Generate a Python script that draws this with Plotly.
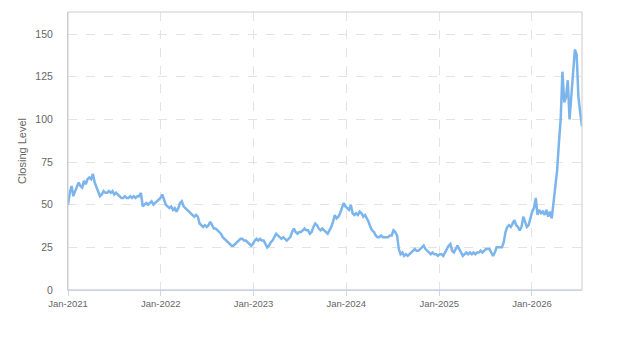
import pandas as pd
import plotly.graph_objects as go

start_date = "2021-01-01"
step = "7D"

close_2021 = [50, 57, 61, 55, 58, 61, 63, 61, 60, 64, 62, 65, 66, 65, 68, 63, 60, 57, 55, 56,
              58, 57, 57, 58, 57, 58, 56, 57, 56, 55, 54, 54, 55, 54, 54, 55, 54, 55, 54, 55,
              55, 57, 49, 50, 51, 50, 51, 52, 50, 51, 52, 53]
close_2022 = [54, 56, 53, 50, 49, 48, 49, 47, 48, 46, 48, 51, 52, 49, 48, 47, 46, 45, 44, 43,
              44, 43, 39, 38, 37, 38, 37, 38, 40, 38, 36, 36, 35, 34, 33, 31, 30, 29, 28, 27,
              26, 26, 27, 28, 29, 30, 30, 29, 29, 28, 27, 26]
close_2023 = [27, 29, 30, 29, 30, 29, 29, 27, 25, 26, 28, 29, 31, 33, 32, 31, 30, 31, 30, 29,
              30, 31, 34, 36, 34, 33, 34, 34, 35, 36, 35, 35, 33, 34, 37, 39, 38, 36, 35, 36,
              35, 34, 33, 35, 37, 40, 44, 42, 43, 45, 48, 51]
close_2024 = [49, 48, 47, 50, 45, 44, 45, 44, 46, 45, 43, 44, 42, 40, 37, 35, 34, 32, 31, 31,
              32, 31, 31, 31, 31, 32, 32, 35, 34, 32, 24, 21, 22, 20, 21, 20, 21, 22, 23, 24,
              23, 23, 24, 25, 26, 24, 23, 22, 21, 22, 21, 21]
close_2025 = [20, 21, 21, 20, 22, 24, 26, 27, 23, 22, 24, 26, 24, 22, 20, 21, 22, 21, 22, 21,
              22, 21, 22, 22, 23, 22, 23, 24, 24, 24, 22, 20, 22, 25, 25, 25, 25, 28, 34, 37,
              38, 37, 39, 41, 38, 37, 35, 37, 43, 40, 37, 38]
close_2026 = [42, 46, 48, 54, 44, 47, 45, 46, 44, 47, 43, 46, 42, 52, 64, 70, 86, 100, 128, 110,
              113, 123, 100, 112, 128, 141, 138, 113, 104, 96]

closing = close_2021 + close_2022 + close_2023 + close_2024 + close_2025 + close_2026
dates = pd.date_range(start=start_date, periods=len(closing), freq=step)

tick_vals = ["2021-01-01", "2022-01-01", "2023-01-01", "2024-01-01", "2025-01-01", "2026-01-01"]
tick_text = ["Jan-2021", "Jan-2022", "Jan-2023", "Jan-2024", "Jan-2025", "Jan-2026"]
y_ticks = [0, 25, 50, 75, 100, 125, 150]

fig = go.Figure()
fig.add_trace(go.Scatter(
    x=dates, y=closing, mode="lines",
    line=dict(color="#7cb5ec", width=2.5),
    hoverinfo="skip",
))

fig.update_layout(
    width=623, height=350,
    margin=dict(l=68, r=41, t=12, b=60),
    paper_bgcolor="white", plot_bgcolor="white",
    showlegend=False,
    font=dict(family="Liberation Sans, Arial, sans-serif", color="#666666"),
)
fig.update_xaxes(
    range=[dates[0], dates[-1]],
    tickvals=tick_vals, ticktext=tick_text,
    tickfont=dict(size=9.5, color="#666666"),
    showgrid=True, gridcolor="#e3e3e3", griddash="dash", gridwidth=1,
    showline=True, linecolor="#ccd6eb", linewidth=1,
    ticks="outside", ticklen=5, tickcolor="#ccd6eb",
    zeroline=False,
)
fig.update_yaxes(
    range=[0, 163],
    tickvals=y_ticks,
    tickfont=dict(size=10.5, color="#666666"),
    showgrid=True, gridcolor="#e3e3e3", griddash="dash", gridwidth=1,
    showline=True, linecolor="#cccccc", linewidth=1,
    ticks="", ticklabelstandoff=12,
    zeroline=False,
    title=dict(text="Closing Level", font=dict(size=11, color="#666666"), standoff=6),
)
fig.add_shape(type="rect", xref="paper", yref="paper", x0=0, y0=0, x1=1, y1=1,
              line=dict(color="#cccccc", width=1), layer="above")
fig.add_shape(type="line", xref="paper", yref="paper", x0=0, y0=0, x1=1, y1=0,
              line=dict(color="#ccd6eb", width=1), layer="above")

fig.write_html("out.html")
